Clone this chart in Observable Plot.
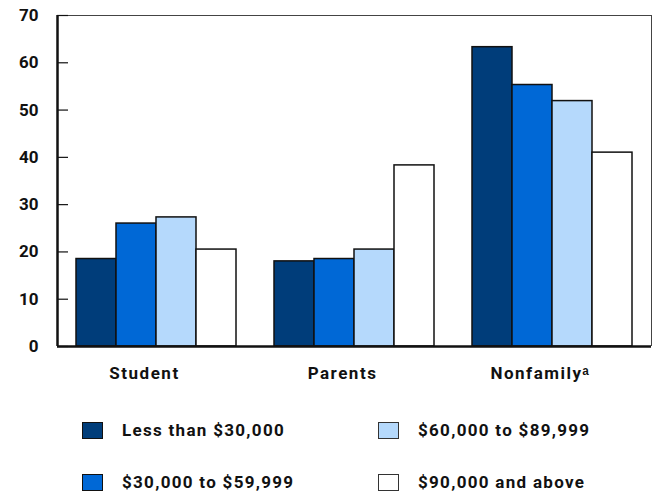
<!DOCTYPE html>
<html>
<head>
<meta charset="utf-8">
<script src="https://cdn.jsdelivr.net/npm/d3@7"></script>
<script src="https://cdn.jsdelivr.net/npm/@observablehq/plot@0.6"></script>
<style>
  body { margin: 0; background: #fff; font-family: Roboto, sans-serif; }
  #chart { position: relative; width: 652px; height: 385px; }
  #chart svg { position: absolute; left: 0; top: 0; }
  .legend { position: relative; width: 652px; height: 109px; }
  .item { position: absolute; height: 20px; display: flex; align-items: center; font-weight: bold; font-size: 17px; letter-spacing: 1.3px; color: #111; }
  .sw { width: 21px; height: 17px; box-sizing: border-box; border: 1.5px solid #111; margin-right: 19px; }
</style>
</head>
<body>
<div id="chart"></div>
<div class="legend" id="legend"></div>
<script>
const groups = ["Student", "Parents", "Nonfamily"];
const incomes = ["Less than $30,000", "$30,000 to $59,999", "$60,000 to $89,999", "$90,000 and above"];
const lessThan30k = [18.5, 18.0, 63.3];
const from30to60k = [26.0, 18.5, 55.3];
const from60to90k = [27.3, 20.5, 51.9];
const above90k = [20.5, 38.3, 41.0];
const yTicks = [0, 10, 20, 30, 40, 50, 60, 70];
const colors = ["#003d7a", "#0068d6", "#b5d9fc", "#ffffff"];

const series = [lessThan30k, from30to60k, from60to90k, above90k];
const data = [];
groups.forEach((g, i) => series.forEach((s, j) => data.push({group: g, income: incomes[j], value: s[i]})));

const W = 652, H = 385;
const margins = {marginTop: 15, marginBottom: 39, marginLeft: 57, marginRight: 1};
const font = 'Roboto, sans-serif';

const bars = Plot.plot({
  width: W, height: H, ...margins,
  style: {fontFamily: font, fontSize: "17px", fontWeight: "bold", color: "#111", background: "transparent", letterSpacing: "1.5px"},
  fx: {domain: groups, paddingInner: 0.19, paddingOuter: 0.095, label: null},
  x: {domain: incomes, padding: 0, axis: null},
  y: {domain: [0, 70], axis: null},
  color: {domain: incomes, range: colors},
  marks: [
    Plot.barY(data, {fx: "group", x: "income", y: "value", fill: "income", stroke: "#111", strokeWidth: 1.5}),
    Plot.axisFx({anchor: "bottom", tickSize: 0, tickPadding: 20, dx: -12, label: null,
      tickFormat: d => d === "Nonfamily" ? "Nonfamily\u1d43" : d})
  ]
});

const frame = Plot.plot({
  width: W, height: H, ...margins,
  style: {fontFamily: font, fontSize: "17px", fontWeight: "bold", color: "#111", background: "transparent"},
  x: {domain: [0, 1], axis: null},
  y: {domain: [0, 70], axis: null},
  marks: [
    Plot.ruleY([70], {stroke: "#444", strokeWidth: 1}),
    Plot.ruleX([1], {stroke: "#444", strokeWidth: 1}),
    Plot.axisY(yTicks, {tickSize: -11, tickPadding: 30, label: null, stroke: "#111", strokeWidth: 1.2, fill: "#111"}),
    Plot.ruleY([0], {stroke: "#111", strokeWidth: 2.5}),
    Plot.ruleX([0], {stroke: "#111", strokeWidth: 2.5})
  ]
});

const chart = document.getElementById("chart");
chart.appendChild(bars);
chart.appendChild(frame);

const legend = document.getElementById("legend");
const pos = [[82, 35], [82, 87], [378, 35], [378, 87]];
incomes.forEach((lab, i) => {
  const it = document.createElement("div");
  it.className = "item";
  it.style.left = pos[i][0] + "px";
  it.style.top = pos[i][1] + "px";
  const sw = document.createElement("div");
  sw.className = "sw";
  sw.style.background = colors[i];
  if (i >= 2) sw.style.borderColor = "#333";
  const tx = document.createElement("span");
  tx.textContent = lab;
  it.appendChild(sw);
  it.appendChild(tx);
  legend.appendChild(it);
});
</script>
</body>
</html>
